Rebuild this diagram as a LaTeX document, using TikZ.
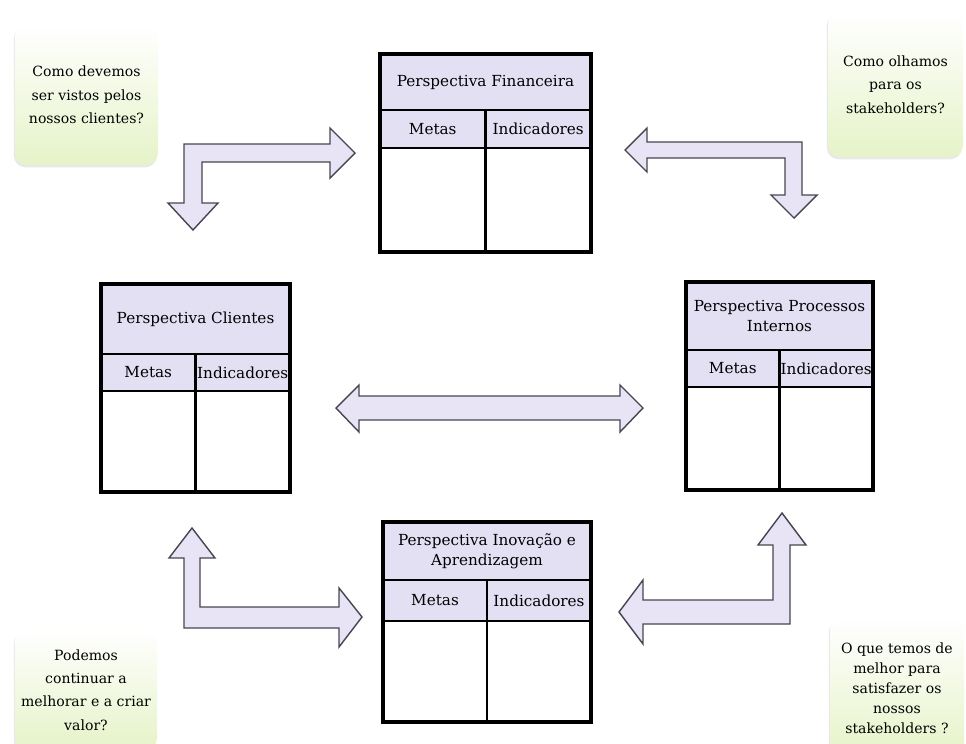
\documentclass[tikz,border=0pt]{standalone}
\usepackage{fontspec}
\setmainfont{DejaVu Serif}
\usepackage{tikz}
\usetikzlibrary{positioning, shadows}
\definecolor{lavhead}{RGB}{228,224,244}
\definecolor{lavarrow}{RGB}{232,228,246}
\definecolor{arrowline}{RGB}{70,70,80}
\definecolor{notegreen}{RGB}{230,243,200}
\tikzset{
  head/.style={rectangle, draw=black, line width=2pt, outer sep=0pt, fill=lavhead, align=center, inner sep=1pt, font=\fontsize{13}{17}\selectfont},
  cell/.style={rectangle, draw=black, line width=2pt, outer sep=0pt, fill=white},
  frame/.style={draw=black, line width=3.2pt},
  note/.style={rectangle, rounded corners=10pt, top color=white, bottom color=notegreen, align=center, font=\fontsize{12}{20}\selectfont, drop shadow={opacity=0.18, shadow xshift=-1pt, shadow yshift=-2pt}},
  bigarrow/.style={draw=arrowline, line width=1.2pt, fill=lavarrow, line join=miter}
}

\begin{document}
\begin{tikzpicture}[x=0.03cm, y=-0.03cm]
  \useasboundingbox (0,0) rectangle (966,743);

  % question boxes
  \node[note, minimum width=4.29cm, minimum height=4.2cm] (qcli) at (86.5,95) {Como devemos\\ser vistos pelos\\nossos clientes?};
  \node[note, minimum width=4.05cm, minimum height=4.35cm] (qfin) at (895.5,84.5) {Como olhamos\\para os\\stakeholders?};
  \node[note, minimum width=4.26cm, minimum height=3.6cm] (qinov) at (86,690) {Podemos\\continuar a\\melhorar e a criar\\valor?};
  \node[note, minimum width=4.02cm, minimum height=4.2cm, font=\fontsize{12}{17}\selectfont] (qproc) at (897,688) {O que temos de\\melhor para\\satisfazer os\\nossos\\stakeholders ?};

  % perspectiva financeira
  \node[head, minimum width=6.33cm, minimum height=1.68cm] (fin) at (485.5,82) {Perspectiva Financeira};
  \node[head, anchor=north west, minimum width=3.165cm, minimum height=1.14cm] (fin-m) at (fin.south west) {Metas};
  \node[head, anchor=north east, minimum width=3.165cm, minimum height=1.14cm] (fin-i) at (fin.south east) {Indicadores};
  \node[cell, below=0pt of fin-m, minimum width=3.165cm, minimum height=3.12cm] (fin-mb) {};
  \node[cell, below=0pt of fin-i, minimum width=3.165cm, minimum height=3.12cm] (fin-ib) {};
  \draw[frame] (fin.north west) rectangle (fin-ib.south east);

  % perspectiva clientes
  \node[head, minimum width=5.67cm, minimum height=2.1cm] (cli) at (195.5,319) {Perspectiva Clientes};
  \node[head, anchor=north west, minimum width=2.835cm, minimum height=1.11cm] (cli-m) at (cli.south west) {Metas};
  \node[head, anchor=north east, minimum width=2.835cm, minimum height=1.11cm] (cli-i) at (cli.south east) {Indicadores};
  \node[cell, below=0pt of cli-m, minimum width=2.835cm, minimum height=3.03cm] (cli-mb) {};
  \node[cell, below=0pt of cli-i, minimum width=2.835cm, minimum height=3.03cm] (cli-ib) {};
  \draw[frame] (cli.north west) rectangle (cli-ib.south east);

  % perspectiva processos internos
  \node[head, minimum width=5.61cm, minimum height=2.04cm] (proc) at (779.5,316) {Perspectiva Processos\\Internos};
  \node[head, anchor=north west, minimum width=2.805cm, minimum height=1.11cm] (proc-m) at (proc.south west) {Metas};
  \node[head, anchor=north east, minimum width=2.805cm, minimum height=1.11cm] (proc-i) at (proc.south east) {Indicadores};
  \node[cell, below=0pt of proc-m, minimum width=2.805cm, minimum height=3.09cm] (proc-mb) {};
  \node[cell, below=0pt of proc-i, minimum width=2.805cm, minimum height=3.09cm] (proc-ib) {};
  \draw[frame] (proc.north west) rectangle (proc-ib.south east);

  % perspectiva inovacao e aprendizagem
  \node[head, minimum width=6.24cm, minimum height=1.74cm] (inov) at (487,551) {Perspectiva Inovação e\\Aprendizagem};
  \node[head, anchor=north west, minimum width=3.12cm, minimum height=1.23cm] (inov-m) at (inov.south west) {Metas};
  \node[head, anchor=north east, minimum width=3.12cm, minimum height=1.23cm] (inov-i) at (inov.south east) {Indicadores};
  \node[cell, below=0pt of inov-m, minimum width=3.12cm, minimum height=3.03cm] (inov-mb) {};
  \node[cell, below=0pt of inov-i, minimum width=3.12cm, minimum height=3.03cm] (inov-ib) {};
  \draw[frame] (inov.north west) rectangle (inov-ib.south east);

  % block arrows
  \draw[bigarrow] (184,144) -- (330,144) -- (330,128) -- (355,153) -- (330,178) -- (330,162)
    -- (202,162) -- (202,203) -- (218,203) -- (193,230) -- (168,203) -- (184,203) -- cycle;
  \draw[bigarrow] (802,142) -- (647,142) -- (647,128) -- (625,150) -- (647,172) -- (647,158)
    -- (785,158) -- (785,195) -- (771,195) -- (794,218) -- (817,195) -- (802,195) -- cycle;
  \draw[bigarrow] (336,408) -- (359,385) -- (359,396) -- (620,396) -- (620,385) -- (643,408)
    -- (620,432) -- (620,420) -- (359,420) -- (359,432) -- cycle;
  \draw[bigarrow] (192,528) -- (215,558) -- (200,558) -- (200,607) -- (339,607) -- (339,588)
    -- (362,617) -- (339,647) -- (339,628) -- (184,628) -- (184,558) -- (169,558) -- cycle;
  \draw[bigarrow] (782,513) -- (806,545) -- (790,545) -- (790,624) -- (643,624) -- (643,644)
    -- (619,612) -- (643,580) -- (643,600) -- (773,600) -- (773,545) -- (758,545) -- cycle;
\end{tikzpicture}
\end{document}
